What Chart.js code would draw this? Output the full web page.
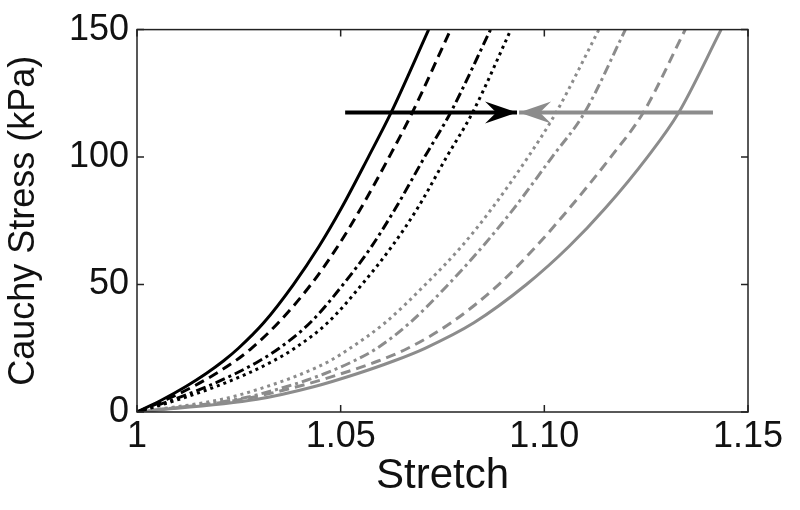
<!DOCTYPE html>
<html>
<head>
<meta charset="utf-8">
<script src="https://cdn.jsdelivr.net/npm/chart.js@4.4.0/dist/chart.umd.min.js"></script>
<style>
  html, body { margin: 0; padding: 0; background: #fff; }
</style>
</head>
<body>
<canvas id="grafico" width="800" height="510"></canvas>
<script>
// stress levels (kPa) at which the stretch of each curve was read
const stressLevels = [0, 5, 10, 15, 20, 25, 35, 50, 65, 80, 100, 117.5, 150];

// stretch values, black curves
const blackSolid   = [1, 1.0064, 1.0120, 1.0169, 1.0212, 1.0249, 1.0311, 1.0384, 1.0447, 1.0502, 1.0568, 1.0624, 1.0716];
const blackDashed  = [1, 1.0074, 1.0138, 1.0193, 1.0241, 1.0281, 1.0347, 1.0427, 1.0493, 1.0550, 1.0619, 1.0676, 1.0770];
const blackDashDot = [1, 1.0092, 1.0172, 1.0241, 1.0300, 1.0349, 1.0425, 1.0506, 1.0576, 1.0635, 1.0706, 1.0770, 1.0868];
const blackDotted  = [1, 1.0104, 1.0194, 1.0270, 1.0334, 1.0387, 1.0468, 1.0552, 1.0626, 1.0689, 1.0760, 1.0824, 1.0918];

// stretch values, gray curves
const grayDotted  = [1, 1.0209, 1.0319, 1.0405, 1.0473, 1.0523, 1.0609, 1.0708, 1.0797, 1.0872, 1.0960, 1.1029, 1.1134];
const grayDashDot = [1, 1.0246, 1.0368, 1.0460, 1.0532, 1.0589, 1.0670, 1.0764, 1.0849, 1.0926, 1.1019, 1.1099, 1.1199];
const grayDashed  = [1, 1.0258, 1.0395, 1.0501, 1.0592, 1.0665, 1.0771, 1.0888, 1.0980, 1.1062, 1.1163, 1.1243, 1.1346];
const graySolid   = [1, 1.0295, 1.0436, 1.0540, 1.0630, 1.0707, 1.0827, 1.0956, 1.1061, 1.1150, 1.1253, 1.1330, 1.1434];

// arrows
const arrowStress = [117.5, 117.5];
const blackArrowX = [1.0511, 1.0933];
const grayArrowX  = [1.1414, 1.0938];

const xTickValues = [1, 1.05, 1.10, 1.15];
const xTickLabels = ['1', '1.05', '1.10', '1.15'];
const yTickValues = [0, 50, 100, 150];

const BLACK = '#000000';
const GRAY = '#8c8c8c';
const FONT = 'Liberation Sans, Arial, sans-serif';

function toPoints(xs, ys) {
  return ys.map((y, i) => ({ x: xs[i], y: y }));
}

function curve(xs, color, dash) {
  return {
    data: toPoints(xs, stressLevels),
    borderColor: color,
    borderWidth: 3,
    borderDash: dash,
    pointRadius: 0,
    cubicInterpolationMode: 'monotone',
    fill: false
  };
}

function arrow(xs, color) {
  return {
    data: toPoints(xs, arrowStress),
    borderColor: color,
    borderWidth: 4,
    pointRadius: 0,
    fill: false,
    isArrow: true
  };
}

// inward ticks on all four sides + frame
const frameTicks = {
  id: 'frameTicks',
  afterDraw(chart) {
    const ctx = chart.ctx;
    const a = chart.chartArea;
    const sx = chart.scales.x;
    const sy = chart.scales.y;
    const len = 7;
    ctx.save();
    ctx.strokeStyle = '#222';
    ctx.lineWidth = 1.5;
    ctx.strokeRect(a.left, a.top, a.right - a.left, a.bottom - a.top);
    ctx.beginPath();
    xTickValues.forEach(v => {
      const px = sx.getPixelForValue(v);
      ctx.moveTo(px, a.bottom); ctx.lineTo(px, a.bottom - len);
      ctx.moveTo(px, a.top); ctx.lineTo(px, a.top + len);
    });
    yTickValues.forEach(v => {
      const py = sy.getPixelForValue(v);
      ctx.moveTo(a.left, py); ctx.lineTo(a.left + len, py);
      ctx.moveTo(a.right, py); ctx.lineTo(a.right - len, py);
    });
    ctx.stroke();
    ctx.restore();
  }
};

// swallow-tail arrow heads at the end of the arrow datasets
const arrowHeads = {
  id: 'arrowHeads',
  afterDatasetsDraw(chart) {
    const ctx = chart.ctx;
    chart.data.datasets.forEach((ds, i) => {
      if (!ds.isArrow) return;
      const pts = chart.getDatasetMeta(i).data;
      const p0 = pts[0], p1 = pts[pts.length - 1];
      const ang = Math.atan2(p1.y - p0.y, p1.x - p0.x);
      const L = 32, W = 22;
      ctx.save();
      ctx.translate(p1.x, p1.y);
      ctx.rotate(ang);
      ctx.fillStyle = ds.borderColor;
      ctx.beginPath();
      ctx.moveTo(0, 0);
      ctx.lineTo(-L, -W / 2);
      ctx.lineTo(-L * 0.65, 0);
      ctx.lineTo(-L, W / 2);
      ctx.closePath();
      ctx.fill();
      ctx.restore();
    });
  }
};

new Chart(document.getElementById('grafico'), {
  type: 'line',
  data: {
    datasets: [
      curve(blackSolid, BLACK, []),
      curve(blackDashed, BLACK, [10, 6]),
      curve(blackDashDot, BLACK, [10, 4, 3, 4]),
      curve(blackDotted, BLACK, [3, 4]),
      curve(grayDotted, GRAY, [3, 4]),
      curve(grayDashDot, GRAY, [10, 4, 3, 4]),
      curve(grayDashed, GRAY, [10, 6]),
      curve(graySolid, GRAY, []),
      arrow(blackArrowX, BLACK),
      arrow(grayArrowX, GRAY)
    ]
  },
  options: {
    responsive: false,
    animation: false,
    layout: { padding: { top: 29, right: 52, left: 0, bottom: 0 } },
    plugins: {
      legend: { display: false },
      tooltip: { enabled: false }
    },
    scales: {
      x: {
        type: 'linear',
        min: 1,
        max: 1.15,
        afterBuildTicks: (s) => { s.ticks = xTickValues.map(v => ({ value: v })); },
        afterFit: (s) => { s.height = 98; },
        ticks: {
          color: '#111',
          font: { family: FONT, size: 36 },
          padding: 3,
          maxRotation: 0,
          callback: (v, i) => xTickLabels[i]
        },
        grid: { display: false, drawTicks: false },
        border: { display: false },
        title: {
          display: true,
          text: 'Stretch',
          color: '#111',
          font: { family: FONT, size: 42 },
          padding: { top: 0, bottom: 8 }
        }
      },
      y: {
        type: 'linear',
        min: 0,
        max: 150,
        afterBuildTicks: (s) => { s.ticks = yTickValues.map(v => ({ value: v })); },
        afterFit: (s) => { s.width = 137; },
        ticks: {
          color: '#111',
          font: { family: FONT, size: 36 },
          padding: 8
        },
        grid: { display: false, drawTicks: false },
        border: { display: false },
        title: {
          display: true,
          text: 'Cauchy Stress (kPa)',
          color: '#111',
          font: { family: FONT, size: 36 },
          padding: { top: 2, bottom: 4 }
        }
      }
    }
  },
  plugins: [frameTicks, arrowHeads]
});
</script>
</body>
</html>
